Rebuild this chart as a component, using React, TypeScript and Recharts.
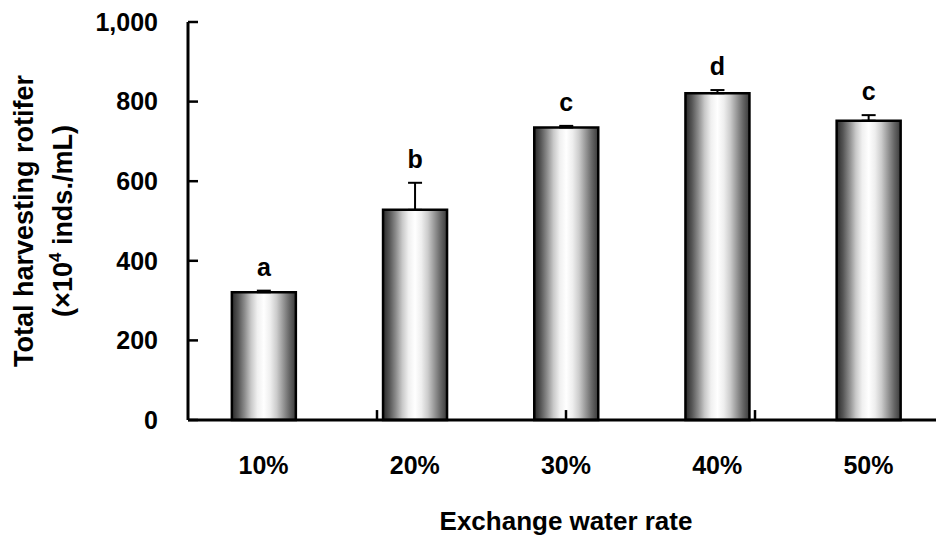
import React from "react";
import {
  BarChart,
  Bar,
  XAxis,
  YAxis,
  ErrorBar,
  LabelList,
  Label,
  ReferenceLine,
} from "recharts";

// Total harvesting rotifer by exchange water rate, mean + SD with letter groups.

const rates = ["10%", "20%", "30%", "40%", "50%"];
const totals = [321, 528, 735, 821, 752];
const errors = [4, 68, 4, 8, 14];
const letters = ["a", "b", "c", "d", "c"];
const yTicks = [0, 200, 400, 600, 800, 1000];
const bandEdges = [1, 2, 3, 4];

const data = rates.map((rate, i) => ({
  rate,
  total: totals[i],
  err: [0, errors[i]],
  letter: letters[i],
}));

const FONT = "'Liberation Sans', Arial, Helvetica, sans-serif";

const fmt = (v: number) => v.toLocaleString("en-US");

function YTitle(props: any) {
  const vb = props.viewBox || {};
  const cy = vb.y + vb.height / 2;
  const x1 = 33;
  const x2 = 72;
  return (
    <g fontFamily={FONT} fontWeight="bold" fontSize={27} fill="#000">
      <text x={x1} y={cy} textAnchor="middle" transform={`rotate(-90 ${x1} ${cy})`}>
        Total harvesting rotifer
      </text>
      <text x={x2} y={cy} textAnchor="middle" transform={`rotate(-90 ${x2} ${cy})`}>
        (×10
        <tspan fontSize={17} dy={-11}>4</tspan>
        <tspan dy={11}> inds./mL)</tspan>
      </text>
    </g>
  );
}

function XTitle(props: any) {
  const vb = props.viewBox || {};
  return (
    <text
      x={vb.x + vb.width / 2}
      y={530}
      textAnchor="middle"
      fontFamily={FONT}
      fontWeight="bold"
      fontSize={26}
      fill="#000"
    >
      Exchange water rate
    </text>
  );
}

function LetterLabel(props: any) {
  const { x, y, width, height, index, value } = props;
  const v = totals[index];
  const errPx = v ? (errors[index] * height) / v : 0;
  return (
    <text
      x={x + width / 2}
      y={y - errPx - 15}
      textAnchor="middle"
      fontFamily={FONT}
      fontWeight="bold"
      fontSize={25}
      fill="#000"
    >
      {value}
    </text>
  );
}

export default function App() {
  return (
    <div
      style={{
        position: "absolute",
        left: 0,
        top: 0,
        width: 936,
        height: 540,
        overflow: "hidden",
        background: "#fff",
      }}
    >
      <BarChart
        width={944}
        height={540}
        data={data}
        margin={{ top: 22, right: 0, bottom: 0, left: 0 }}
        barCategoryGap="29%"
      >
        <defs>
          <linearGradient id="barShade" x1="0" y1="0" x2="1" y2="0">
            <stop offset="0" stopColor="#2a2a2a" />
            <stop offset="0.1" stopColor="#555555" />
            <stop offset="0.2" stopColor="#8c8c8c" />
            <stop offset="0.3" stopColor="#c8c8c8" />
            <stop offset="0.4" stopColor="#f0f0f0" />
            <stop offset="0.5" stopColor="#ffffff" />
            <stop offset="0.6" stopColor="#eeeeee" />
            <stop offset="0.7" stopColor="#cccccc" />
            <stop offset="0.8" stopColor="#999999" />
            <stop offset="0.9" stopColor="#666666" />
            <stop offset="1" stopColor="#3a3a3a" />
          </linearGradient>
        </defs>
        <XAxis
          dataKey="rate"
          height={120}
          tickSize={0}
          tickMargin={36}
          tickLine={false}
          axisLine={{ stroke: "#000", strokeWidth: 3 }}
          tick={{ fill: "#000", fontSize: 25, fontWeight: "bold", fontFamily: FONT }}
        >
          <Label content={XTitle} />
        </XAxis>
        <XAxis
          xAxisId="edges"
          type="number"
          domain={[0, rates.length]}
          allowDataOverflow
          hide
        />
        <YAxis
          width={188}
          domain={[0, 1000]}
          ticks={yTicks}
          interval={0}
          tickFormatter={fmt}
          tickSize={-10}
          tickMargin={40}
          axisLine={{ stroke: "#000", strokeWidth: 3 }}
          tickLine={{ stroke: "#000", strokeWidth: 2.5 }}
          tick={{ fill: "#000", fontSize: 25, fontWeight: "bold", fontFamily: FONT }}
        >
          <Label content={YTitle} />
        </YAxis>
        {bandEdges.map((e) => (
          <ReferenceLine
            key={e}
            xAxisId="edges"
            segment={[
              { x: e, y: 0 },
              { x: e, y: 25 },
            ]}
            stroke="#000"
            strokeWidth={2.5}
            ifOverflow="visible"
          />
        ))}
        <Bar
          dataKey="total"
          fill="url(#barShade)"
          stroke="#000"
          strokeWidth={2.5}
          isAnimationActive={false}
        >
          <ErrorBar dataKey="err" width={7} stroke="#000" strokeWidth={2} direction="y" />
          <LabelList dataKey="letter" content={LetterLabel} />
        </Bar>
      </BarChart>
    </div>
  );
}
